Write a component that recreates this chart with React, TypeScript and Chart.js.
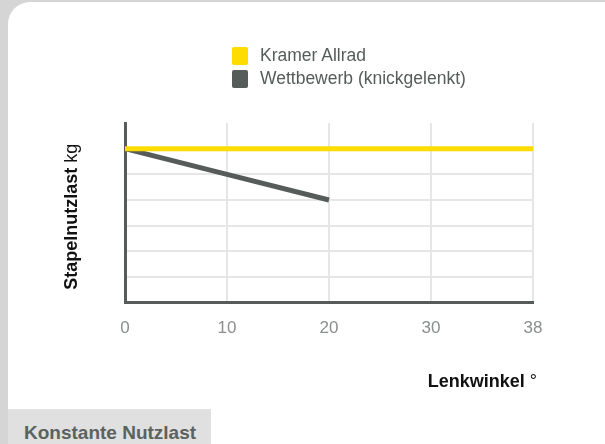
import React, { useEffect, useRef } from "react";
import { Chart, registerables } from "chart.js";

Chart.register(...registerables);

const FONT = '"Liberation Sans", Arial, Helvetica, sans-serif';

const categories = ["0", "10", "20", "30", "38"];
const kramerValues = [6, 6, 6, 6, 6];
const wettbewerbValues: (number | null)[] = [6, 5, 4, null, null];
const seriesNames = ["Kramer Allrad", "Wettbewerb (knickgelenkt)"];
const seriesColors = ["#ffdc00", "#555c59"];
const yMin = 0;
const yMax = 7;
const xTitleBold = "Lenkwinkel";
const xTitleUnit = " °";
const yTitleBold = "Stapelnutzlast";
const yTitleUnit = " kg";
const tabLabel = "Konstante Nutzlast";

const axisTitlesPlugin = {
  id: "axisTitles",
  afterDraw(chart: any) {
    const { ctx, chartArea } = chart;
    const bold = `bold 18px ${FONT}`;
    const normal = `18px ${FONT}`;
    ctx.save();
    ctx.fillStyle = "#111111";
    ctx.textBaseline = "alphabetic";
    ctx.textAlign = "left";
    // x title
    ctx.font = bold;
    const w1 = ctx.measureText(xTitleBold).width;
    ctx.font = normal;
    const w2 = ctx.measureText(xTitleUnit).width;
    const xr = chartArea.right + 4;
    const xb = chartArea.bottom + 84;
    ctx.font = bold;
    ctx.fillText(xTitleBold, xr - w1 - w2, xb);
    ctx.font = normal;
    ctx.fillText(xTitleUnit, xr - w2, xb);
    // y title
    ctx.font = bold;
    const v1 = ctx.measureText(yTitleBold).width;
    ctx.font = normal;
    const v2 = ctx.measureText(yTitleUnit).width;
    const cy = (chartArea.top + chartArea.bottom) / 2 + 4;
    ctx.translate(77, cy);
    ctx.rotate(-Math.PI / 2);
    const start = -(v1 + v2) / 2;
    ctx.font = bold;
    ctx.fillText(yTitleBold, start, 0);
    ctx.font = normal;
    ctx.fillText(yTitleUnit, start + v1, 0);
    ctx.restore();
  },
};

export default function App() {
  const canvasRef = useRef<HTMLCanvasElement | null>(null);

  useEffect(() => {
    if (!canvasRef.current) return;
    const chart = new Chart(canvasRef.current, {
      type: "line",
      data: {
        labels: categories,
        datasets: [
          {
            label: seriesNames[0],
            data: kramerValues,
            borderColor: seriesColors[0],
            backgroundColor: seriesColors[0],
            borderWidth: 5,
            pointRadius: 0,
            pointHoverRadius: 0,
            tension: 0,
          },
          {
            label: seriesNames[1],
            data: wettbewerbValues,
            borderColor: seriesColors[1],
            backgroundColor: seriesColors[1],
            borderWidth: 5,
            pointRadius: 0,
            pointHoverRadius: 0,
            tension: 0,
            spanGaps: false,
          },
        ],
      },
      options: {
        animation: false,
        responsive: true,
        maintainAspectRatio: false,
        layout: { padding: { left: 125, right: 72, top: 123, bottom: 89 } },
        plugins: {
          legend: { display: false },
          tooltip: { enabled: false },
        },
        scales: {
          x: {
            type: "category",
            offset: false,
            grid: {
              display: true,
              drawTicks: false,
              color: "#e6e6e6",
              lineWidth: 2,
            },
            border: { display: true, color: "#555c59", width: 3 },
            ticks: {
              autoSkip: false,
              maxRotation: 0,
              padding: 16,
              color: "#8a8e8c",
              font: { family: FONT, size: 17 },
            },
          },
          y: {
            min: yMin,
            max: yMax,
            grid: {
              display: true,
              drawTicks: false,
              color: (c: any) => (c.tick && c.tick.value === yMax ? "rgba(0,0,0,0)" : "#e6e6e6"),
              lineWidth: 2,
            },
            border: { display: true, color: "#555c59", width: 3 },
            ticks: { display: false, stepSize: 1 },
          },
        },
      },
      plugins: [axisTitlesPlugin],
    });
    return () => chart.destroy();
  }, []);

  return (
    <div
      style={{
        position: "fixed",
        left: 0,
        top: 0,
        width: 605,
        height: 444,
        overflow: "hidden",
        background: "#d5d5d5",
        fontFamily: FONT,
      }}
    >
      <div
        style={{
          position: "absolute",
          left: 8,
          top: 2,
          width: 620,
          height: 470,
          background: "#ffffff",
          borderRadius: 22,
        }}
      />
      <div style={{ position: "absolute", left: 0, top: 0, width: 605, height: 444 }}>
        <canvas ref={canvasRef} />
      </div>
      <div style={{ position: "absolute", left: 232, top: 44 }}>
        {seriesNames.map((name, i) => (
          <div
            key={name}
            style={{ display: "flex", alignItems: "center", height: 23 }}
          >
            <span
              style={{
                display: "inline-block",
                width: 16,
                height: 18,
                borderRadius: 2,
                background: seriesColors[i],
                marginRight: 12,
              }}
            />
            <span style={{ fontSize: 17.5, color: "#555c59", lineHeight: "23px" }}>{name}</span>
          </div>
        ))}
      </div>
      <div
        style={{
          position: "absolute",
          left: 8,
          top: 409,
          width: 203,
          height: 40,
          background: "#dfe0df",
        }}
      >
        <span
          style={{
            position: "absolute",
            left: 16,
            top: 14,
            fontSize: 19,
            fontWeight: "bold",
            lineHeight: "20px",
            color: "#5b625f",
            whiteSpace: "nowrap",
          }}
        >
          {tabLabel}
        </span>
      </div>
    </div>
  );
}
